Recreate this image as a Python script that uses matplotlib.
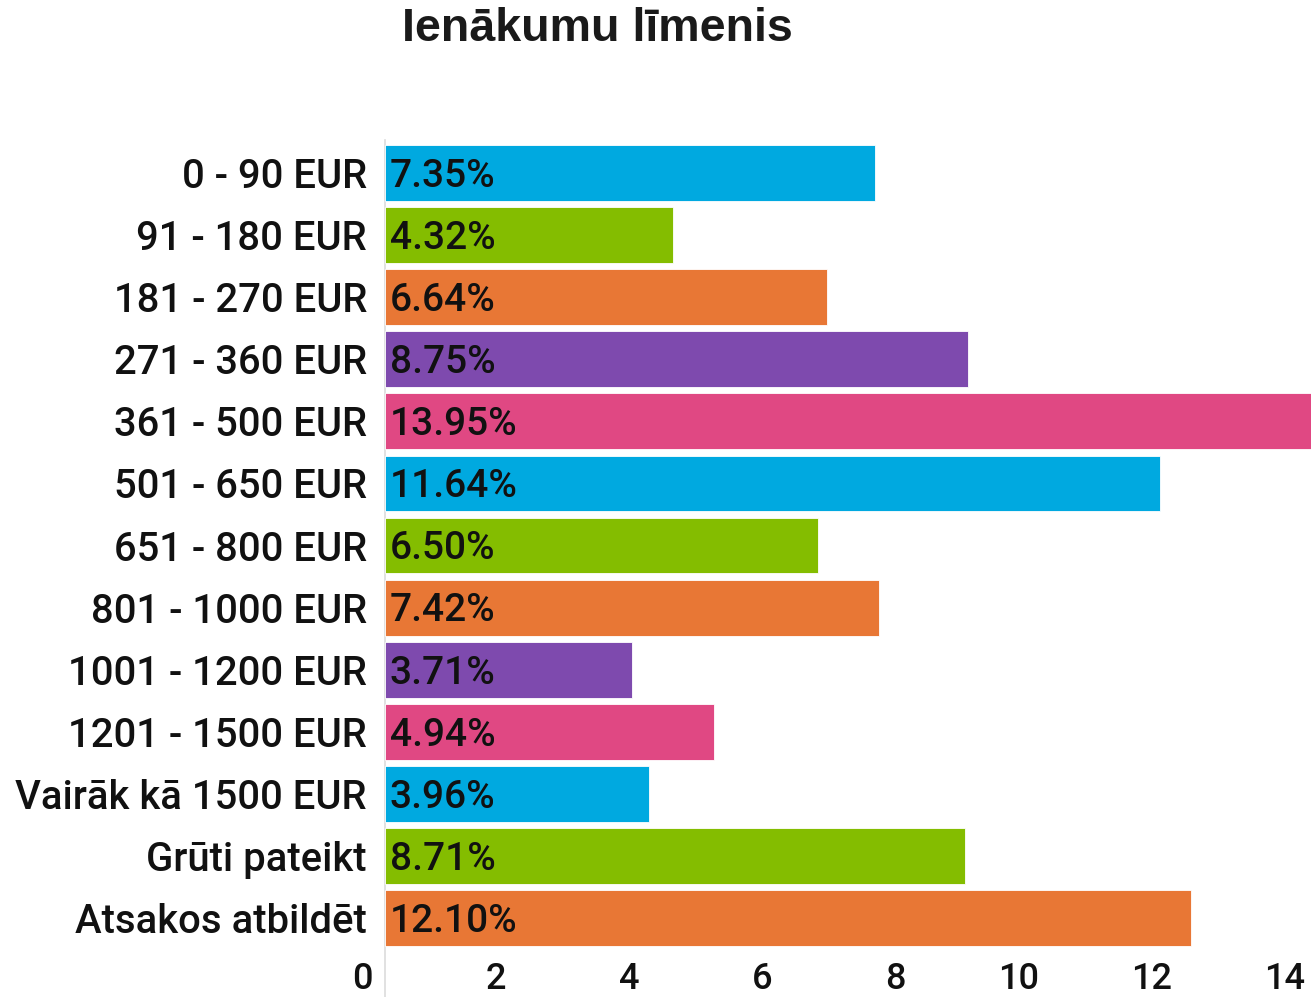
"""Horizontal bar chart of income levels (Ienākumu līmenis)."""

import matplotlib
matplotlib.use("Agg")
import matplotlib.pyplot as plt
from matplotlib.transforms import ScaledTranslation


# Data
categories = [
    "0 - 90 EUR",
    "91 - 180 EUR",
    "181 - 270 EUR",
    "271 - 360 EUR",
    "361 - 500 EUR",
    "501 - 650 EUR",
    "651 - 800 EUR",
    "801 - 1000 EUR",
    "1001 - 1200 EUR",
    "1201 - 1500 EUR",
    "Vairāk kā 1500 EUR",
    "Grūti pateikt",
    "Atsakos atbildēt",
]
shares = [7.35, 4.32, 6.64, 8.75, 13.95, 11.64, 6.50, 7.42, 3.71, 4.94, 3.96, 8.71, 12.10]
x_ticks = [0, 2, 4, 6, 8, 10, 12, 14]
title = "Ienākumu līmenis"

# Repeating palette of the original chart
palette = ["#00A9E0", "#84BD00", "#E87735", "#7E4AAE", "#E04883"]

PLOT_SETTINGS = {
    "label_font":  "Roboto",
    "title_font":  "Liberation Sans",
    "label_size":  28.8,
    "value_size":  28,
    "tick_size":   26,
    "title_size":  33.6,
    "text_color":  "#111111",
    "axis_color":  "#dcdcdc",
    "bar_height":  0.9,
}

fig = plt.figure(figsize=(13.11, 9.97), dpi=100)
ax = fig.add_axes([0.29367, 0.0461, 0.7112, 0.8134])

colors = [palette[i % len(palette)] for i in range(len(categories))]
ypos = list(range(len(categories)))
ax.barh(ypos, shares, height=PLOT_SETTINGS["bar_height"], color=colors,
        edgecolor="white", linewidth=0.6)

# value labels at the start of each bar, digits centred on the bar
cap_half = PLOT_SETTINGS["value_size"] * 0.711 / 2
for y, v in zip(ypos, shares):
    ax.annotate(f"{v:.2f}%", xy=(0, y), xytext=(3.5, -cap_half), textcoords="offset points",
                va="baseline", ha="left", fontsize=PLOT_SETTINGS["value_size"],
                family=PLOT_SETTINGS["label_font"], fontweight="medium",
                color=PLOT_SETTINGS["text_color"])

ax.set_xlim(0, 14)
ax.set_ylim(len(categories) - 1 + 0.532, -0.532)
ax.set_yticks(ypos)
ax.set_yticklabels(categories, fontsize=PLOT_SETTINGS["label_size"],
                   family=PLOT_SETTINGS["label_font"], fontweight="medium",
                   color=PLOT_SETTINGS["text_color"])
ax.set_xticks(x_ticks)
ax.set_xticklabels([str(t) for t in x_ticks], fontsize=PLOT_SETTINGS["tick_size"],
                   family=PLOT_SETTINGS["label_font"], fontweight="medium",
                   color=PLOT_SETTINGS["text_color"])
ax.tick_params(axis="y", length=0, pad=13)
ax.tick_params(axis="x", length=0, pad=8)

# right-align x tick labels slightly left of their tick
offset = ScaledTranslation(-12 / 100, 0, fig.dpi_scale_trans)
for lab in ax.get_xticklabels():
    lab.set_horizontalalignment("right")
    lab.set_transform(lab.get_transform() + offset)

for side in ["top", "right", "bottom", "left"]:
    ax.spines[side].set_visible(False)
ax.axvline(0, ymin=-0.06, ymax=1, color=PLOT_SETTINGS["axis_color"],
           linewidth=1.2, clip_on=False, zorder=0)

fig.text(0.456, 1 - 7 / 997, title, ha="center", va="top",
         family=PLOT_SETTINGS["title_font"], fontweight="bold",
         fontsize=PLOT_SETTINGS["title_size"], color="#1a1a1a")

fig.savefig("out.png", dpi=100)
